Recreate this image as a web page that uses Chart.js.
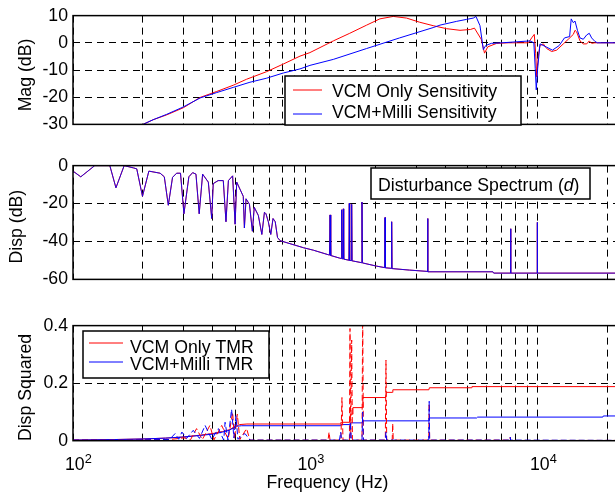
<!DOCTYPE html>
<html>
<head>
<meta charset="utf-8">
<script src="https://cdn.jsdelivr.net/npm/chart.js@4.4.0/dist/chart.umd.min.js"></script>
<style>
  html, body { margin: 0; padding: 0; background: #fff; overflow: hidden; width: 615px; height: 497px; }
  canvas { position: absolute; left: 0; }
</style>
</head>
<body>
<canvas id="mag" width="640" height="140" style="top:0px"></canvas>
<canvas id="disp" width="640" height="145" style="top:150px"></canvas>
<canvas id="tmr" width="640" height="187" style="top:310px"></canvas>
<script>
// x grid (log decades + minor lines)
const gridFreqs = [100, 200, 300, 400, 500, 600, 700, 800, 900, 1000, 2000, 3000, 4000, 5000, 6000, 7000, 8000, 9000, 10000, 20000];
const decadeTicks = [100, 1000, 10000];
const decadeExps = ['2', '3', '4'];

// top: sensitivity magnitude (dB)
const sensFreqRed = [200, 221, 253, 298, 352, 415, 489, 558, 681, 803, 947, 1045, 1317, 1550, 1832, 2088, 2385, 2720, 3090, 3540, 4040, 4620, 5120, 5330, 5700, 5890, 6080, 6640, 7500, 9100, 9390, 9640, 9775, 9872, 10030, 10200, 10550, 10900, 11450, 12030, 12850, 13500, 14190, 14430, 14670, 15160, 15660, 16200, 16620, 17010, 17580, 25000];
const sensRed = [-30, -28.3, -26.5, -23.9, -20.1, -17.9, -15.6, -13.4, -10.6, -7.8, -4.9, -3.6, 0.7, 3.5, 6.5, 8.8, 9.7, 9.1, 7.6, 6.3, 5.2, 4.6, 4.9, 5.4, 1.3, -3.8, -1.5, -0.2, 0, 0, 1.8, 3.1, -3.8, -12.5, -4.9, -1, -0.4, -2.1, -3.2, -2.7, -0.4, 1.3, 3.1, 4.6, 4.0, 0.7, -0.4, -0.4, 0.7, -0.2, 0, 0];
const sensFreqBlue = [200, 221, 253, 298, 352, 415, 489, 577, 681, 803, 947, 1045, 1317, 1832, 2540, 3540, 3790, 4470, 4920, 5270, 5410, 5630, 5820, 5960, 6300, 7000, 9240, 9600, 9730, 9830, 9970, 10200, 10900, 11540, 12340, 13000, 13680, 13900, 14190, 14430, 14780, 15160, 15660, 16200, 16620, 17010, 17580, 18000, 25000];
const sensBlue = [-30, -28.3, -26.3, -23.6, -20.3, -18.3, -16.4, -14.5, -13.0, -11.1, -9.6, -8.3, -6.1, -2.1, 1.8, 5.6, 6.5, 7.9, 8.6, 9.1, 9.7, 6.3, -2.5, -1.0, -0.2, 0, 0.7, 0, -9.4, -17.3, -9.4, -0.4, -1.6, -2.7, -1.0, 1.8, 2.3, 8.8, 7.4, 8.0, 4.6, 1.8, 1.3, 2.9, 3.5, 1.8, 0.5, 0, 0];

// middle: disturbance spectrum (dB)
const distFreq = [100, 108, 124, 144, 153, 166, 182, 188, 199, 212, 237, 247, 257, 268, 279, 290, 300, 315, 327, 338, 349, 361, 382, 395, 401, 421, 443, 455, 466, 486, 498, 506, 540, 546, 555, 574, 591, 602, 627, 649, 666, 676, 692, 709, 725, 741, 758, 778, 980, 1081, 1253, 1268, 1275, 1284, 1404, 1426, 1431, 1437, 1448, 1454, 1460, 1537, 1543, 1549, 1574, 1580, 1586, 1744, 1750, 1756, 2020, 2190, 2198, 2206, 2310, 2340, 2348, 2356, 2800, 3345, 3354, 3363, 6400, 6450, 7615, 7630, 7645, 9915, 9930, 9945, 25000];
const distDb = [-2.9, -5.9, 0, 0, -11.7, 0, -1.2, -1.7, -16.2, -2.9, -4, -5.9, -20.9, -6.2, -4, -4, -25.4, -5.9, -3.7, -4.5, -25.4, -4.5, -8.7, -27.9, -9.5, -7.9, -7.9, -29.6, -7.9, -5.4, -30.9, -8.7, -16.2, -32.9, -17.5, -20.4, -34.6, -22, -26.3, -36.3, -24.6, -25.4, -29.6, -36.3, -27.9, -29.6, -37.9, -39.6, -43.3, -44.6, -47.0, -47.2, -26, -47.4, -48.8, -49, -23.3, -49.1, -49.2, -22.8, -49.3, -49.9, -19.9, -50, -50.1, -20.4, -50.2, -51.2, -19.2, -51.3, -53, -53.8, -27.4, -53.9, -54.1, -54.2, -29.6, -54.3, -55.1, -55.8, -27.9, -56, -56, -56.7, -56.7, -33.3, -56.7, -56.7, -29.9, -56.7, -56.7];
const distNote = ['Disturbance Spectrum (', 'd', ')'];

// bottom: cumulative TMR (solid) and per-frequency contribution (dashed)
const tmrFreqRed = [100, 150, 200, 250, 300, 350, 400, 440, 470, 490, 505, 520, 560, 1410, 1420, 1550, 1560, 1590, 1600, 1755, 1765, 2210, 2225, 2365, 2375, 3395, 3410, 5180, 5200, 25000];
const tmrRed = [0.002, 0.004, 0.006, 0.009, 0.013, 0.019, 0.025, 0.032, 0.038, 0.046, 0.052, 0.056, 0.058, 0.058, 0.064, 0.064, 0.092, 0.092, 0.115, 0.115, 0.15, 0.15, 0.168, 0.168, 0.177, 0.177, 0.184, 0.184, 0.188, 0.188];
const tmrFreqBlue = [100, 150, 200, 250, 300, 350, 400, 440, 470, 490, 505, 530, 1410, 1420, 1550, 1560, 1755, 1765, 3395, 3410, 5450, 5500, 19000, 19100, 25000];
const tmrBlue = [0.002, 0.004, 0.006, 0.009, 0.013, 0.018, 0.023, 0.03, 0.036, 0.045, 0.05, 0.052, 0.052, 0.056, 0.056, 0.062, 0.062, 0.069, 0.069, 0.079, 0.079, 0.082, 0.082, 0.086, 0.086];
const binFreqRed = [100, 260, 300, 320, 340, 360, 388, 404, 436, 465, 486, 495, 509, 522, 558, 577, 1250, 1263, 1275, 1420, 1435, 1450, 1545, 1554, 1565, 1580, 1592, 1750, 1762, 1775, 2205, 2219, 2235, 2360, 2372, 2385, 3390, 3405, 3420, 7590, 7600, 7620, 25000];
const binRed = [0.002, 0.004, 0.01, 0.003, 0.042, 0.004, 0.053, 0.003, 0.053, 0.006, 0.098, 0.005, 0.092, 0.004, 0.042, 0.002, 0.002, 0.03, 0.002, 0.002, 0.15, 0.002, 0.002, 0.39, 0.01, 0.35, 0.002, 0.002, 0.45, 0.002, 0.002, 0.28, 0.002, 0.002, 0.06, 0.002, 0.002, 0.13, 0.002, 0.002, 0.012, 0.001, 0.001];
const binFreqBlue = [100, 200, 260, 275, 285, 294, 308, 329, 350, 370, 395, 422, 445, 451, 464, 481, 492, 502, 512, 549, 577, 1400, 1417, 1430, 1550, 1560, 1575, 1750, 1762, 1775, 2205, 2219, 2235, 3390, 3405, 3420, 7590, 7600, 7620, 25000];
const binBlue = [0.002, 0.003, 0.004, 0.025, 0.005, 0.03, 0.008, 0.036, 0.008, 0.053, 0.005, 0.042, 0.002, 0.064, 0.002, 0.109, 0.01, 0.087, 0.005, 0.025, 0.002, 0.002, 0.03, 0.002, 0.002, 0.065, 0.002, 0.002, 0.1, 0.002, 0.002, 0.03, 0.002, 0.002, 0.137, 0.002, 0.002, 0.012, 0.002, 0.001];

const FONT = '"Liberation Sans", Arial, Helvetica, sans-serif';
const FS = 17.7;
Chart.defaults.font.family = FONT;
Chart.defaults.font.size = FS;
Chart.defaults.color = '#000';

function pts(xs, ys) {
    return xs.map((x, i) => ({ x: x, y: ys[i] }));
}

function xAxis(height) {
    return {
        type: 'logarithmic',
        min: 100,
        max: 25000,
        afterBuildTicks: s => { s.ticks = gridFreqs.map(v => ({ value: v })); },
        afterFit: s => { s.height = height; },
        ticks: { display: false },
        grid: { color: '#000', lineWidth: 1, drawTicks: false },
        border: { display: false, dash: [7, 5] }
    };
}

function yAxis(min, max, step) {
    return {
        min: min,
        max: max,
        afterFit: s => { s.width = 73; },
        ticks: { stepSize: step, padding: 5 },
        grid: { color: '#000', lineWidth: 1, drawTicks: false },
        border: { display: false, dash: [7, 5] }
    };
}

const frame = {
    id: 'frame',
    afterDraw(chart) {
        const { ctx, chartArea: a } = chart;
        ctx.save();
        ctx.strokeStyle = '#000';
        ctx.lineWidth = 1.5;
        ctx.strokeRect(a.left, a.top, a.right - a.left, a.bottom - a.top);
        ctx.restore();
    }
};

// axis titles drawn where the original figure put them
function titles(list) {
    return {
        id: 'titles',
        afterDraw(chart) {
            const ctx = chart.ctx;
            ctx.save();
            ctx.fillStyle = '#000';
            ctx.font = FS + 'px ' + FONT;
            ctx.textAlign = 'center';
            list.forEach(t => {
                ctx.save();
                ctx.translate(t.x, t.y);
                if (t.rot) ctx.rotate(-Math.PI / 2);
                ctx.textBaseline = t.rot ? 'middle' : 'alphabetic';
                ctx.fillText(t.text, 0, 0);
                ctx.restore();
            });
            ctx.restore();
        }
    };
}

function boxLegend(cfg) {
    return {
        id: 'boxLegend',
        afterDraw(chart) {
            const ctx = chart.ctx;
            const [bx, by, bw, bh] = cfg.box;
            ctx.save();
            ctx.fillStyle = '#fff';
            ctx.fillRect(bx, by, bw, bh);
            ctx.strokeStyle = '#000';
            ctx.lineWidth = 1.5;
            ctx.strokeRect(bx, by, bw, bh);
            ctx.font = FS + 'px ' + FONT;
            ctx.textBaseline = 'alphabetic';
            cfg.rows.forEach(r => {
                const ds = chart.data.datasets[r.ds];
                ctx.strokeStyle = ds.borderColor;
                ctx.lineWidth = 1;
                ctx.beginPath();
                ctx.moveTo(cfg.lineX[0], r.lineY);
                ctx.lineTo(cfg.lineX[1], r.lineY);
                ctx.stroke();
                ctx.fillStyle = '#000';
                ctx.fillText(ds.label, cfg.textX, r.baseY);
            });
            ctx.restore();
        }
    };
}

const noteBox = {
    id: 'noteBox',
    afterDraw(chart) {
        const ctx = chart.ctx;
        ctx.save();
        ctx.fillStyle = '#fff';
        ctx.fillRect(371, 18, 219, 31);
        ctx.strokeStyle = '#000';
        ctx.lineWidth = 1.5;
        ctx.strokeRect(371, 18, 219, 31);
        ctx.fillStyle = '#000';
        ctx.textBaseline = 'alphabetic';
        let x = 378;
        distNote.forEach((part, i) => {
            ctx.font = (i === 1 ? 'italic ' : '') + FS + 'px ' + FONT;
            ctx.fillText(part, x, 40.7);
            x += ctx.measureText(part).width;
        });
        ctx.restore();
    }
};

const decadeLabels = {
    id: 'decadeLabels',
    afterDraw(chart) {
        const ctx = chart.ctx;
        const xs = chart.scales.x;
        ctx.save();
        ctx.fillStyle = '#000';
        ctx.textBaseline = 'alphabetic';
        decadeTicks.forEach((v, i) => {
            const px = xs.getPixelForValue(v);
            ctx.font = FS + 'px ' + FONT;
            ctx.fillText('10', px - 8, 160);
            const w = ctx.measureText('10').width;
            ctx.font = '12.8px ' + FONT;
            ctx.fillText(decadeExps[i], px - 8 + w, 152.7);
        });
        ctx.restore();
    }
};

const common = {
    responsive: false,
    devicePixelRatio: 1,
    animation: false,
    events: [],
    elements: { line: { borderWidth: 1, tension: 0, fill: false }, point: { radius: 0 } },
    plugins: { legend: { display: false }, tooltip: { enabled: false } }
};

new Chart(document.getElementById('mag'), {
    type: 'line',
    data: {
        datasets: [
            { label: 'VCM Only Sensitivity', data: pts(sensFreqRed, sensRed), borderColor: '#ff0000', order: 1 },
            { label: 'VCM+Milli Sensitivity', data: pts(sensFreqBlue, sensBlue), borderColor: '#0000ff', order: 0 }
        ]
    },
    options: Object.assign({}, common, {
        layout: { padding: { left: 0, right: 9.5, top: 9, bottom: 12.3 } },
        scales: { x: xAxis(0), y: yAxis(-30, 10, 10) }
    }),
    plugins: [frame, boxLegend({
        box: [285, 76, 236, 49], lineX: [293, 322], textX: 332,
        rows: [{ ds: 0, lineY: 90, baseY: 96.5 }, { ds: 1, lineY: 114, baseY: 118.2 }]
    }), titles([{ text: 'Mag (dB)', x: 25.8, y: 75, rot: true }])]
});

new Chart(document.getElementById('disp'), {
    type: 'line',
    data: {
        datasets: [
            { label: 'VCM Only', data: pts(distFreq, distDb), borderColor: '#ff0000', order: 1 },
            { label: 'VCM+Milli', data: pts(distFreq, distDb), borderColor: 'rgba(0,0,255,0.85)', order: 0 }
        ]
    },
    options: Object.assign({}, common, {
        layout: { padding: { left: 0, right: 9.5, top: 14.3, bottom: 11 } },
        scales: { x: xAxis(0), y: yAxis(-60, 0, 20) }
    }),
    plugins: [frame, noteBox, titles([{ text: 'Disp (dB)', x: 17.5, y: 76.7, rot: true }])]
});

new Chart(document.getElementById('tmr'), {
    type: 'line',
    data: {
        datasets: [
            { label: 'VCM Only TMR', data: pts(tmrFreqRed, tmrRed), borderColor: '#ff0000', order: 3 },
            { label: 'VCM+Milli TMR', data: pts(tmrFreqBlue, tmrBlue), borderColor: '#0000ff', order: 2 },
            { label: 'VCM Only bin', data: pts(binFreqRed, binRed), borderColor: '#ff0000', borderDash: [6, 3], order: 1 },
            { label: 'VCM+Milli bin', data: pts(binFreqBlue, binBlue), borderColor: '#0000ff', borderDash: [6, 3], order: 0 }
        ]
    },
    options: Object.assign({}, common, {
        layout: { padding: { left: 0, right: 9.5, top: 12, bottom: 0 } },
        scales: { x: xAxis(56.3), y: yAxis(0, 0.4, 0.2) }
    }),
    plugins: [frame, decadeLabels, boxLegend({
        box: [83, 21, 186, 47], lineX: [89, 123], textX: 130,
        rows: [{ ds: 0, lineY: 33, baseY: 43.3 }, { ds: 1, lineY: 52, baseY: 60 }]
    }), titles([
        { text: 'Disp Squared', x: 25.8, y: 77.5, rot: true },
        { text: 'Frequency (Hz)', x: 327.5, y: 178, rot: false }
    ])]
});
</script>
</body>
</html>
